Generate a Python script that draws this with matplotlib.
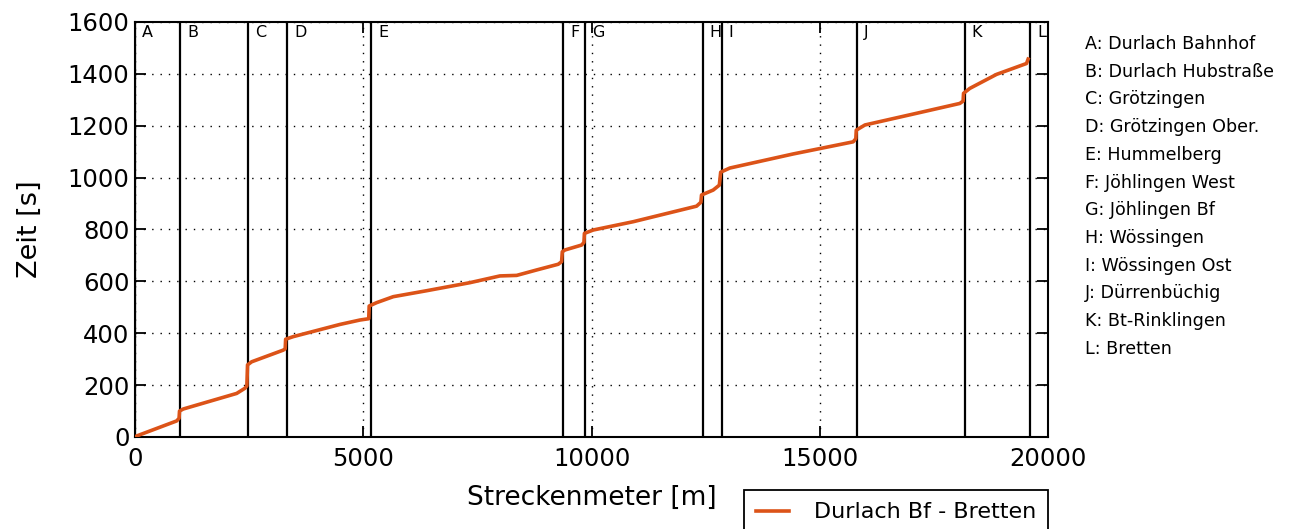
import matplotlib
matplotlib.use("Agg")
import matplotlib.pyplot as plt

# station letters, names and positions along the line [m]
letters = ["A", "B", "C", "D", "E", "F", "G", "H", "I", "J", "K", "L"]
names = ["Durlach Bahnhof", "Durlach Hubstraße", "Grötzingen", "Grötzingen Ober.",
         "Hummelberg", "Jöhlingen West", "Jöhlingen Bf", "Wössingen",
         "Wössingen Ost", "Dürrenbüchig", "Bt-Rinklingen", "Bretten"]
station_m = [0, 985, 2480, 3340, 5170, 9385, 9860, 12440, 12850, 15825, 18180, 19610]

# run: Durlach Bf - Bretten
dist_m = [0, 37, 913, 965, 975, 1058, 2227, 2409, 2450, 2465, 2556, 3248, 3290,
          3300, 3467, 4490, 4928, 5120, 5130, 5293, 5657, 6389, 7337, 7994, 8360,
          8798, 9271, 9345, 9360, 9418, 9783, 9834, 9845, 10037, 10913, 12302,
          12396, 12410, 12665, 12800, 12830, 13031, 14411, 15732, 15790, 15800,
          15990, 17120, 18068, 18140, 18150, 18287, 18872, 19529, 19565]
time_s = [0, 4, 62, 72, 100, 108, 168, 188, 197, 278, 290, 335, 340,
          377, 387, 434, 451, 456, 505, 518, 541, 564, 595, 621, 623,
          644, 666, 676, 714, 721, 740, 750, 785, 798, 830, 890,
          905, 933, 952, 971, 1021, 1037, 1091, 1138, 1150, 1183,
          1203, 1248, 1286, 1295, 1325, 1344, 1398, 1440, 1457]

xticks = [0, 5000, 10000, 15000, 20000]
yticks = [0, 200, 400, 600, 800, 1000, 1200, 1400, 1600]

fig = plt.figure(figsize=(12.89, 5.29), dpi=100)
ax = fig.add_axes([135 / 1289, 92 / 529, 913 / 1289, 415 / 529])

ax.set_xlim(0, 20000)
ax.set_ylim(0, 1600)
ax.set_xticks(xticks)
ax.set_yticks(yticks)
ax.grid(True, color="k", linestyle=(0, (1, 5)), linewidth=1.0)
ax.set_axisbelow(True)

for s, l in zip(station_m, letters):
    ax.axvline(s, color="k", linewidth=1.6, zorder=2)
    ax.annotate(l, xy=(s, 1600), xytext=(5, -2), textcoords="offset points",
                ha="left", va="top", fontsize=11.5)

ax.plot(dist_m, time_s, color="#dc5318", linewidth=2.6, zorder=3,
        label="Durlach Bf - Bretten")

ax.tick_params(direction="in", length=8, width=1.3, labelsize=17.5,
               top=True, right=True)
ax.tick_params(axis="x", pad=7)
ax.tick_params(axis="y", pad=4)
for sp in ax.spines.values():
    sp.set_linewidth(1.5)

ax.set_xlabel("Streckenmeter [m]", fontsize=19, labelpad=10)
ax.set_ylabel("Zeit [s]", fontsize=19.5, labelpad=18)

leg = ax.legend(loc="upper right", bbox_to_anchor=(1.0, -0.128), borderaxespad=0,
                fontsize=16, fancybox=False, edgecolor="k", framealpha=1,
                handlelength=1.5, handletextpad=1.1, borderpad=0.55)
leg.get_frame().set_linewidth(1.3)

for i, (l, n) in enumerate(zip(letters, names)):
    y = 1 - (44 + i * 27.7) / 529
    fig.text(1085 / 1289, y, f"{l}: {n}", fontsize=12.6, va="center", ha="left")

fig.savefig("out.png", dpi=100)
